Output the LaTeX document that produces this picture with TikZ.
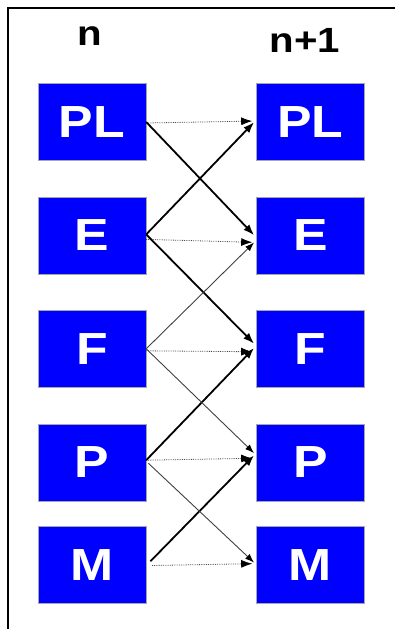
\documentclass[tikz,border=0pt]{standalone}
\usepackage{fontspec}
\newfontfamily\cellfont{Liberation Sans}[FakeStretch=1.15]
\usetikzlibrary{arrows.meta}
\usetikzlibrary{positioning}

\begin{document}
\begin{tikzpicture}[
        x=1pt, y=-1pt,
        cell/.style={
            draw=black!35, fill=blue, text=white,
            minimum width=108pt, minimum height=77pt, inner sep=0pt,
            font=\cellfont\bfseries\fontsize{45}{45}\selectfont,
        },
        steplabel/.style={
            anchor=base, font=\cellfont\bfseries\fontsize{35}{35}\selectfont,
        },
        strong/.style={-{Latex[length=11pt, width=8pt]}, line width=1.8pt, shorten >=3pt},
        weak/.style={-{Latex[length=9pt, width=6.5pt, black]}, line width=0.9pt, black!75, shorten >=3pt},
        same/.style={-{Latex[length=11pt, width=8pt, black]}, densely dotted, line width=0.8pt, black!70, shorten >=4pt},
    ]
    \useasboundingbox (0,0) rectangle (395,629);

    % --- frame ---
    \draw[line width=2pt] (7.5,629) -- (7.5,8) -- (395,8);

    % --- step labels ---
    \node[steplabel] (nA) at (90,45) {n};
    \node[steplabel] (nB) at (305,52) {n+1};

    % --- step n ---
    \node[cell] (plA) at (92,122) {PL};
    \node[cell, below=36pt of plA] (eA) {E};
    \node[cell, below=36pt of eA] (fA) {F};
    \node[cell, below=36pt of fA] (pA) {P};
    \node[cell, below=25pt of pA] (mA) {M};

    % --- step n+1 ---
    \node[cell, right=110pt of plA] (plB) {PL};
    \node[cell, right=110pt of eA] (eB) {E};
    \node[cell, right=110pt of fA] (fB) {F};
    \node[cell, right=110pt of pA] (pB) {P};
    \node[cell, right=110pt of mA] (mB) {M};

    % --- same quantity carried over ---
    \draw[same] ([yshift=-1pt]plA.east) -- ([yshift=1pt]plB.west);
    \draw[same] ([yshift=-4pt]eA.east) -- ([yshift=-7pt]eB.west);
    \draw[same] ([yshift=-2pt]fA.east) -- ([yshift=-3pt]fB.west);
    \draw[same] ([yshift=2pt]pA.east) -- ([yshift=4pt]pB.west);
    \draw[same, shorten <=6pt] ([yshift=-1pt]mA.east) -- ([yshift=1pt]mB.west);

    % --- strong couplings ---
    \draw[strong] (plA.east) -- ([yshift=-2pt]eB.west);
    \draw[strong] ([yshift=1pt]eA.east) -- ([yshift=2pt]plB.west);
    \draw[strong] ([yshift=1pt]eA.east) -- ([yshift=3pt]fB.west);
    \draw[strong] ([yshift=2pt]pA.east) -- ([yshift=3pt]fB.west);
    \draw[strong, shorten <=6pt] ([yshift=-1pt]mA.east) -- ([yshift=9pt]pB.west);

    % --- weak couplings ---
    \draw[weak] (fA.east) -- ([yshift=-5pt]eB.west);
    \draw[weak] (fA.east) -- ([yshift=7pt]pB.west);
    \draw[weak, shorten <=3pt] ([yshift=1pt]pA.east) -- (mB.west);
\end{tikzpicture}
\end{document}
